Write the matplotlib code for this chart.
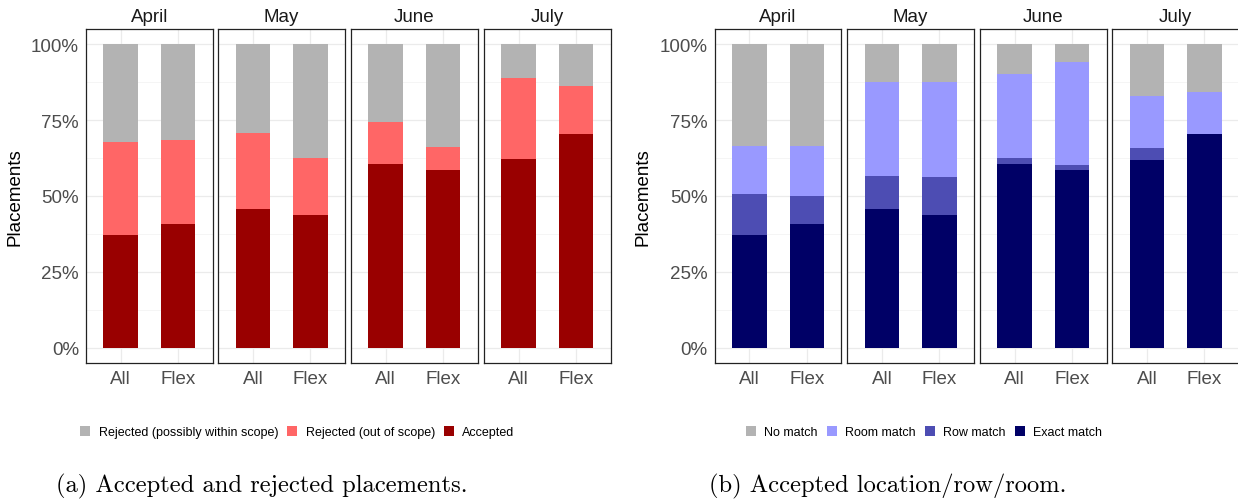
import matplotlib.pyplot as plt
from matplotlib.patches import Patch
import numpy as np


# =====================================================
# DATA (percent of placements)
# =====================================================

months = ["April", "May", "June", "July"]
groups = ["All", "Flex"]

# (a) accepted / rejected, one [All, Flex] pair per month
accepted = [[37.1, 40.8], [45.7, 43.8], [60.7, 58.7], [62.3, 70.6]]
rejected_out = [[30.7, 27.7], [25.2, 18.7], [13.6, 7.6], [26.5, 15.6]]
rejected_within = [[32.2, 31.5], [29.1, 37.5], [25.7, 33.7], [11.2, 13.8]]

# (b) accepted location / row / room
exact_match = [[37.1, 40.8], [45.7, 43.8], [60.7, 58.7], [62.0, 70.3]]
row_match = [[13.6, 9.3], [11.0, 12.6], [2.0, 1.6], [4.0, 0.0]]
room_match = [[15.8, 16.4], [31.0, 31.1], [27.5, 33.8], [16.9, 13.9]]
no_match = [[33.5, 33.5], [12.3, 12.5], [9.8, 5.9], [17.1, 15.8]]

labels_a = ["Rejected (possibly within scope)", "Rejected (out of scope)", "Accepted"]
colors_a = ["#B3B3B3", "#FF6666", "#990000"]

labels_b = ["No match", "Room match", "Row match", "Exact match"]
colors_b = ["#B3B3B3", "#9999FF", "#4D4DB3", "#000066"]


plt.rcParams["font.family"] = ["Liberation Sans", "DejaVu Sans"]

W, H = 1238, 502
fig = plt.figure(figsize=(W / 100, H / 100), dpi=100)

PANEL_TOP = 30.3
PANEL_BOTTOM = 363.7


def px_axes(x0, x1):
    return fig.add_axes([
        x0 / W,
        1 - PANEL_BOTTOM / H,
        (x1 - x0) / W,
        (PANEL_BOTTOM - PANEL_TOP) / H
    ])


# =====================================================
# ONE FACETED STACKED BAR CHART
# =====================================================

def draw_facets(lefts, stacks, colors, labels, legend_x, ylabel_x):

    x = np.arange(len(groups))

    for i, month in enumerate(months):

        ax = px_axes(lefts[i], lefts[i] + 126.7)

        bottom = np.zeros(len(groups))

        # stacks are listed bottom -> top
        for values, color in zip(stacks, colors):
            v = np.array(values[i]) / 100.0
            ax.bar(x, v, 0.6, bottom=bottom, color=color, linewidth=0, zorder=2)
            bottom = bottom + v

        ax.set_xlim(-0.6, len(groups) - 0.4)
        ax.set_ylim(-0.05, 1.05)

        ax.set_yticks([0, 0.25, 0.5, 0.75, 1.0])
        ax.set_yticks([0.125, 0.375, 0.625, 0.875], minor=True)
        ax.set_xticks(x)
        ax.set_xticklabels(groups)

        ax.grid(which="major", color="#EBEBEB", linewidth=0.9, zorder=0)
        ax.grid(which="minor", axis="y", color="#F2F2F2", linewidth=0.5, zorder=0)
        ax.set_axisbelow(True)

        ax.tick_params(which="both", length=0, labelsize=13.5,
                       labelcolor="#4D4D4D", pad=5)

        if i == 0:
            ax.set_yticklabels(["0%", "25%", "50%", "75%", "100%"])
        else:
            ax.set_yticklabels([])

        for sp in ax.spines.values():
            sp.set_color("#222222")
            sp.set_linewidth(0.9)

        ax.text(0.5, 1 + (PANEL_TOP - 18) / (PANEL_BOTTOM - PANEL_TOP), month,
                transform=ax.transAxes, ha="center", va="center",
                fontsize=13.5, color="#1A1A1A")

    fig.text(ylabel_x / W, 1 - 197 / H, "Placements",
             rotation=90, ha="center", va="center", fontsize=13.5)

    handles = [
        Patch(facecolor=c, edgecolor="none", label=l)
        for c, l in zip(colors[::-1], labels)
    ]

    fig.legend(
        handles=handles,
        loc="center",
        bbox_to_anchor=(legend_x / W, 1 - 433 / H),
        ncol=len(handles),
        frameon=False,
        fontsize=9,
        handlelength=0.8,
        handleheight=0.8,
        handletextpad=0.65,
        columnspacing=0.75,
        borderpad=0
    )


draw_facets(
    [86, 218.3, 351, 484],
    [accepted, rejected_out, rejected_within],
    colors_a[::-1],
    labels_a,
    297.5,
    15
)

draw_facets(
    [714.7, 847.3, 980, 1112.3],
    [exact_match, row_match, room_match, no_match],
    colors_b[::-1],
    labels_b,
    924,
    643
)


# =====================================================
# CAPTIONS
# =====================================================

fig.text(262 / W, 1 - 486 / H, "(a) Accepted and rejected placements.",
         family="cmr10", fontsize=17.7, ha="center", va="center")

fig.text(888 / W, 1 - 486 / H, "(b) Accepted location/row/room.",
         family="cmr10", fontsize=17.7, ha="center", va="center")


plt.savefig("out.png", dpi=100)
plt.close()
